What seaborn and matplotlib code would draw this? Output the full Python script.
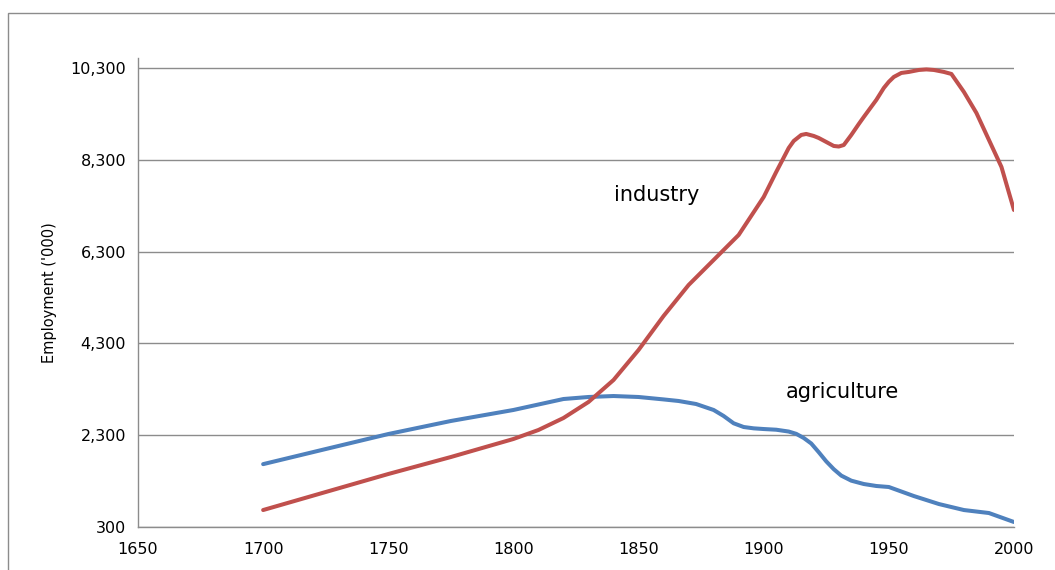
#%% IMPORTS
from matplotlib import pyplot as plt
from matplotlib.patches import Rectangle
from matplotlib.ticker import FuncFormatter
import pandas as pd
import seaborn as sns

#%% DATA
agri_years = [1700, 1725, 1750, 1775, 1800, 1820, 1830, 1840, 1850, 1860,
              1866, 1873, 1880, 1884, 1888, 1892, 1896, 1900, 1905, 1910,
              1913, 1916, 1919, 1922, 1925, 1928, 1931, 1935, 1940, 1945,
              1950, 1960, 1970, 1980, 1990, 2000]
agri_values = [1670, 1999, 2326, 2610, 2850, 3089, 3133, 3154, 3133, 3080,
               3046, 2980, 2850, 2719, 2560, 2479, 2450, 2435, 2420, 2380,
               2330, 2240, 2120, 1930, 1730, 1560, 1420, 1310, 1237, 1194,
               1172, 975, 801, 670, 605, 409]

ind_years = [1700, 1725, 1750, 1775, 1800, 1810, 1820, 1830, 1840, 1850,
             1860, 1870, 1880, 1890, 1900, 1905, 1910, 1912, 1915, 1917,
             1920, 1922, 1925, 1928, 1930, 1932, 1935, 1938, 1940, 1945,
             1948, 1950, 1952, 1955, 1958, 1962, 1965, 1968, 1972, 1975,
             1980, 1985, 1990, 1995, 2000]
ind_values = [670, 1063, 1455, 1825, 2218, 2414, 2675, 3024, 3503, 4157,
              4898, 5573, 6118, 6663, 7490, 8035, 8558, 8711, 8842, 8864,
              8820, 8776, 8689, 8602, 8590, 8623, 8842, 9081, 9234, 9605,
              9866, 10000, 10106, 10193, 10215, 10258, 10270, 10258, 10215, 10171,
              9779, 9321, 8733, 8145, 7207]

y_ticks = [300, 2300, 4300, 6300, 8300, 10300]
x_ticks = [1650, 1700, 1750, 1800, 1850, 1900, 1950, 2000]

#%% PLOT
sns.set_style("white")
plt.rcParams['font.family'] = ['DejaVu Sans']
plt.rcParams['text.color'] = 'black'
plt.rcParams['axes.labelcolor'] = 'black'

df = pd.concat([
    pd.DataFrame({"year": agri_years, "value": agri_values, "sector": "agriculture"}),
    pd.DataFrame({"year": ind_years, "value": ind_values, "sector": "industry"}),
])

fig = plt.figure(figsize=(10.55, 5.70), dpi=100)
ax = fig.add_axes([0.1308, 0.0754, 0.8303, 0.8228])

sns.lineplot(data=df, x="year", y="value", hue="sector",
             palette={"agriculture": "#4F81BD", "industry": "#C0504D"},
             linewidth=2.9, legend=False, ax=ax)
for line in ax.get_lines():
    line.set_solid_joinstyle("round")

ax.set_xlim(1650, 2000)
ax.set_ylim(300, 10518)
ax.set_xticks(x_ticks)
ax.set_yticks(y_ticks)
ax.yaxis.set_major_formatter(FuncFormatter(lambda v, p: f"{int(v):,}"))
ax.grid(axis="y", color="#8c8c8c", linewidth=1.0)
ax.set_axisbelow(True)

for side in ["top", "right"]:
    ax.spines[side].set_visible(False)
for side in ["left", "bottom"]:
    ax.spines[side].set_color("#8c8c8c")
    ax.spines[side].set_linewidth(1.0)

ax.tick_params(axis="both", direction="out", length=5, width=1.0,
               color="#8c8c8c", labelsize=11.5, labelcolor="black")
ax.tick_params(axis="x", pad=6)
ax.set_xlabel("")
ax.set_ylabel("Employment ('000)", fontsize=10.5, labelpad=10)

ax.text(1857.4, 7534, "industry", fontsize=15, ha="center", va="center")
ax.text(1931.4, 3241, "agriculture", fontsize=15, ha="center", va="center")

# outer chart-area border (left and top visible)
fig.patches.append(Rectangle((8 / 1055, -0.1), 1.2, 1.1 - 13 / 570,
                             transform=fig.transFigure, fill=False,
                             edgecolor="#8c8c8c", linewidth=1.0))

fig.savefig("out.png", dpi=100)
